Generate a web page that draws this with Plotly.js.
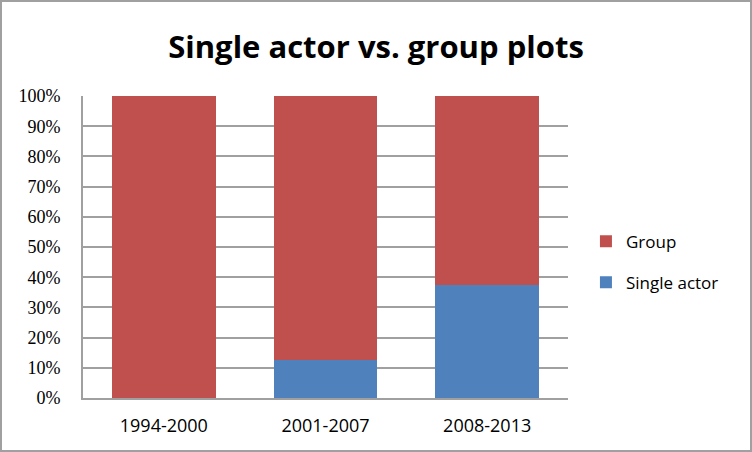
<!DOCTYPE html>
<html><head><meta charset="utf-8">
<script src="https://cdn.plot.ly/plotly-3.0.1.min.js"></script>
<style>
html,body{margin:0;padding:0;background:#fff;}
#wrap{position:relative;width:752px;height:452px;}
#chart{width:752px;height:452px;}
#frame{position:absolute;left:0;top:0;width:748px;height:448px;border:2px solid #a0a0a0;pointer-events:none;}
</style></head>
<body>
<div id="wrap"><div id="chart"></div><div id="frame"></div></div>
<script>
const categories = ["1994-2000", "2001-2007", "2008-2013"];
const singleActor = [0, 12.5, 37.5];
const group = [100, 87.5, 62.5];
const yTicks = [0,10,20,30,40,50,60,70,80,90,100];
const yTickLabels = yTicks.map(v => v + "%");

const traces = [
  {type:"bar", name:"Single actor", x:categories, y:singleActor, marker:{color:"#4F81BD"}, legendgroup:"a", legendrank:2, hoverinfo:"none"},
  {type:"bar", name:"Group", x:categories, y:group, marker:{color:"#C0504D"}, legendgroup:"b", legendrank:1, hoverinfo:"none"}
];
const layout = {
  width:752, height:452,
  margin:{l:83, r:184, t:96, b:54},
  paper_bgcolor:"#fff", plot_bgcolor:"#fff",
  barmode:"stack", bargap:0.357,
  title:{text:"Single actor vs. group plots", x:0.5, xref:"container", xanchor:"center", y:0.895, yref:"container", yanchor:"middle",
    font:{family:"Open Sans, sans-serif", size:31, color:"#000", weight:"bold"}},
  xaxis:{type:"category", showgrid:false, showline:true, linecolor:"#a0a0a0", linewidth:2, ticks:"", 
    tickfont:{family:"Open Sans, sans-serif", size:18, color:"#000"}, ticklabelstandoff:10, fixedrange:true},
  yaxis:{range:[0,100], tickvals:yTicks, ticktext:yTickLabels, showgrid:true, gridcolor:"#a0a0a0", gridwidth:2,
    showline:true, linecolor:"#a0a0a0", linewidth:2, zeroline:false, ticks:"",
    tickfont:{family:"Liberation Serif, serif", size:18, color:"#000"}, ticklabelstandoff:17, fixedrange:true},
  showlegend:true,
  legend:{x:1.037, xanchor:"left", y:0.45, yanchor:"middle", traceorder:"grouped", tracegroupgap:16,
    font:{family:"Open Sans, sans-serif", size:17, color:"#000"}, itemwidth:30}
};
Plotly.newPlot("chart", traces, layout, {displayModeBar:false, staticPlot:true});
</script>
</body></html>
